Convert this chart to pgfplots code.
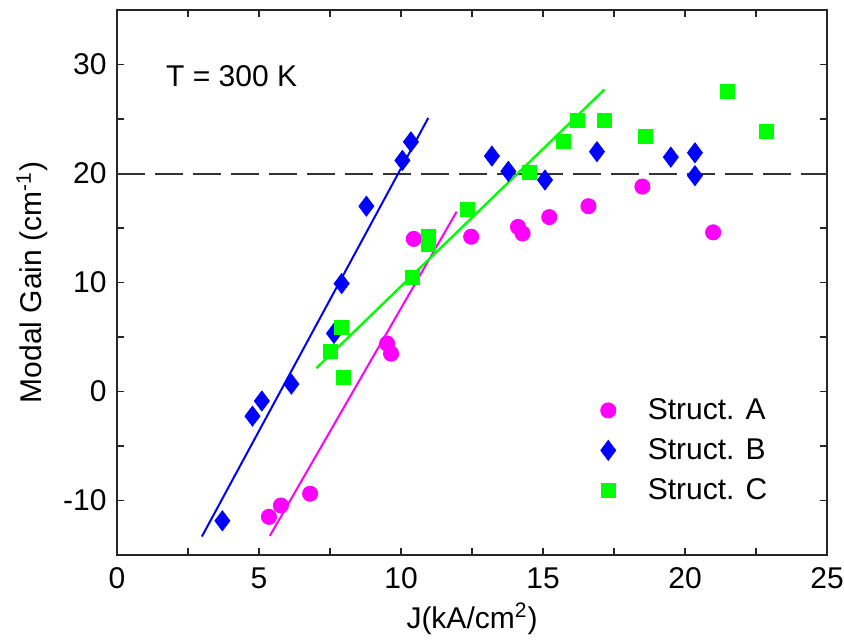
\documentclass[border=0pt]{standalone}
\usepackage{fontspec}
\setmainfont{Liberation Sans}
\usepackage{pgfplots}
\pgfplotsset{compat=1.18}

\definecolor{cA}{RGB}{255,0,255}
\definecolor{cB}{RGB}{0,0,255}
\definecolor{cC}{RGB}{0,255,0}

\begin{document}
\begin{tikzpicture}
\begin{axis}[
    scale only axis,
    width=355pt,
    height=272.5pt,
    xmin=0, xmax=25,
    ymin=-15, ymax=35,
    xtick={0,5,...,25},
    ytick={-10,0,...,30},
    minor x tick num=1,
    minor y tick num=1,
    major tick length=3.5pt,
    minor tick length=3.5pt,
    tick style={black!85, line width=0.6pt},
    axis line style={black!85, line width=0.7pt},
    /pgf/number format/assume math mode=true,
    tick label style={font=\fontsize{15}{18}\selectfont},
    xticklabel style={inner sep=0pt, yshift=-6pt},
    yticklabel style={inner sep=0pt, xshift=-5pt},
    xlabel={J(kA/cm\textsuperscript{2})},
    ylabel={Modal Gain (cm\textsuperscript{-1})},
    every axis x label/.style={at={(axis description cs:0.5,-0.1174)}, anchor=center,
        font=\fontsize{15}{18}\selectfont},
    every axis y label/.style={at={(axis description cs:-0.1197,0.5)}, rotate=90, anchor=center,
        font=\fontsize{15}{18}\selectfont},
    legend style={draw=none, fill=none, font=\fontsize{15}{18}\selectfont,
        at={(axis cs:20.0,-5.4)}, anchor=center, row sep=6pt,
        nodes={inner sep=1pt},
        /tikz/every odd column/.append style={column sep=15pt}},
    legend cell align=left,
]

% reference level
\addplot[forget plot, black!80, line width=1pt, dash pattern=on 14pt off 5pt]
    coordinates {(0,20) (25,20)};

% linear fits
\addplot[forget plot, cB, line width=1pt] coordinates {(2.99,-13.3) (10.96,25.1)};
\addplot[forget plot, cA, line width=1pt] coordinates {(5.38,-13.25) (11.96,16.5)};
\addplot[forget plot, cC, line width=1.2pt] coordinates {(7.02,2.14) (17.16,27.7)};

% Struct. A
\addplot[only marks, mark=*, mark size=3.8pt, draw=cA, fill=cA] coordinates {
    (5.35,-11.5) (5.77,-10.46) (6.8,-9.38) (9.51,4.4) (9.65,3.47)
    (10.45,14.0) (12.47,14.2) (14.12,15.1) (14.28,14.5) (15.22,16.0)
    (16.6,17.0) (18.5,18.8) (20.99,14.6)
};
\addlegendentry{Struct. A}

% Struct. B
\addplot[only marks, mark=diamond*, mark size=5pt, draw=cB, fill=cB] coordinates {
    (3.71,-11.86) (4.77,-2.26) (5.1,-0.87) (6.14,0.68) (7.64,5.33)
    (7.91,9.9) (8.78,17.0) (10.05,21.2) (10.35,22.9) (13.2,21.6)
    (13.78,20.2) (15.07,19.4) (16.9,22.0) (19.5,21.5) (20.35,21.9)
    (20.35,19.8)
};
\addlegendentry{Struct. B}

% Struct. C
\addplot[only marks, mark=square*, mark size=3.5pt, draw=cC, fill=cC] coordinates {
    (7.51,3.68) (7.91,5.88) (7.98,1.3) (10.4,10.45) (10.95,14.2)
    (10.95,13.5) (12.35,16.7) (14.52,20.1) (15.72,22.9) (16.22,24.9)
    (17.17,24.9) (18.62,23.4) (21.5,27.5) (22.85,23.85)
};
\addlegendentry{Struct. C}

\node[anchor=west, inner sep=0pt, font=\fontsize{15}{18}\selectfont]
    at (axis cs:1.72,28.9) {T = 300 K};

\end{axis}
\pgfresetboundingbox
\path[use as bounding box]
    ([shift={(-58.5pt,-42pt)}]current axis.south west)
    rectangle ([shift={(8.5pt,5pt)}]current axis.north east);
\end{tikzpicture}
\end{document}
